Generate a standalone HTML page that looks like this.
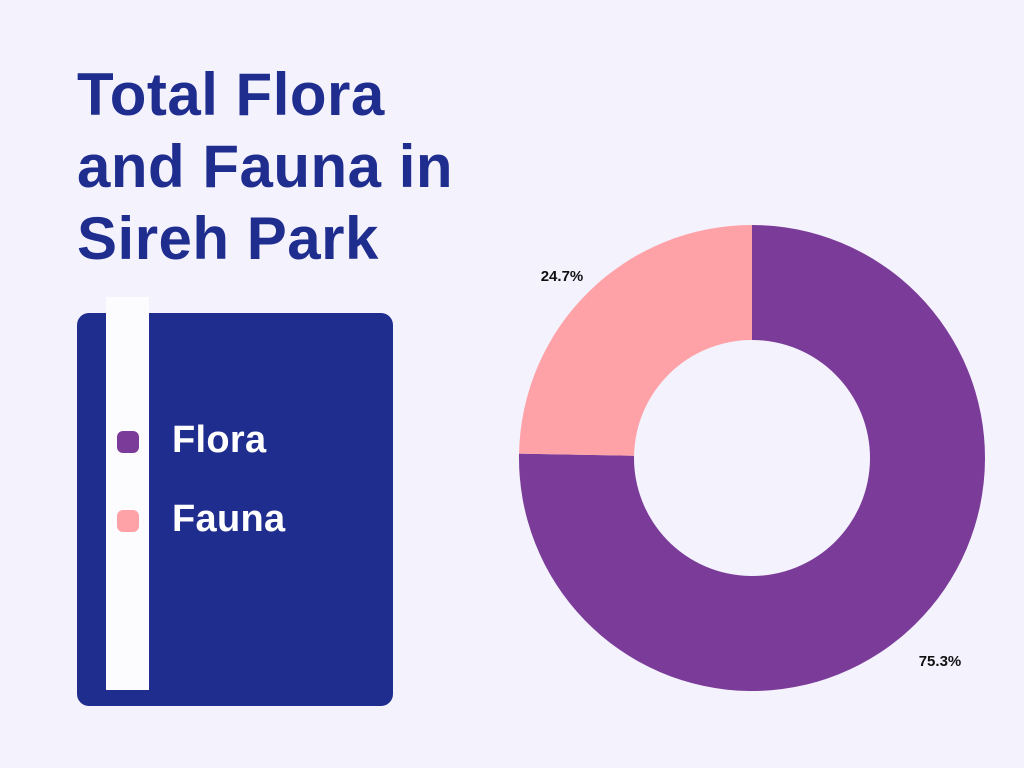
<!DOCTYPE html>
<html><head><meta charset="utf-8"><style>
html,body{margin:0;padding:0;background:#f3f2fd;}
body{width:1024px;height:768px;position:relative;overflow:hidden;font-family:"Liberation Sans",sans-serif;}
#title{position:absolute;left:77px;top:59px;margin:0;font-size:60px;line-height:72px;font-weight:bold;color:#1f2d8f;letter-spacing:0.5px;}
#legend-box{position:absolute;left:77px;top:313px;width:316px;height:393px;background:#1f2d8f;border-radius:12px;}
#stripe{position:absolute;left:106px;top:297px;width:43px;height:393px;background:#fcfcfe;}
.item{position:absolute;left:117px;height:22px;}
.sw{position:absolute;left:0;top:0;width:22px;height:22px;border-radius:6px;}
.lbl{position:absolute;left:55px;top:-12px;font-size:38px;font-weight:bold;color:#fff;white-space:nowrap;letter-spacing:0.3px;}
svg{position:absolute;left:0;top:0;}
</style></head><body>
<h1 id="title">Total Flora<br>and Fauna in<br>Sireh Park</h1>
<div id="legend-box"></div>
<div id="stripe"></div>
<div class="item" style="top:431px"><div class="sw" style="background:#7b3b99"></div><div class="lbl">Flora</div></div>
<div class="item" style="top:510px"><div class="sw" style="background:#ffa2a8"></div><div class="lbl">Fauna</div></div>
<svg id="chart" width="1024" height="768"></svg>
<script>
const categories=["Flora","Fauna"];
const values=[75.3,24.7];
const colors=["#7b3b99","#ffa2a8"];
const labelPos=[[940,661],[562,276]];
const svg=document.getElementById('chart');
const NS='http://www.w3.org/2000/svg';
const cx=752,cy=458,R=233,r=118;
const total=values.reduce((a,b)=>a+b,0);
function pt(a,rad){return [cx+rad*Math.sin(a),cy-rad*Math.cos(a)];}
let start=0;
values.forEach((v,i)=>{
  const end=start+v/total*2*Math.PI;
  const large=(end-start)>Math.PI?1:0;
  const [x1,y1]=pt(start,R),[x2,y2]=pt(end,R),[x3,y3]=pt(end,r),[x4,y4]=pt(start,r);
  const p=document.createElementNS(NS,'path');
  p.setAttribute('d',`M${x1},${y1}A${R},${R} 0 ${large} 1 ${x2},${y2}L${x3},${y3}A${r},${r} 0 ${large} 0 ${x4},${y4}Z`);
  p.setAttribute('fill',colors[i]);
  
  
  svg.appendChild(p);
  const t=document.createElementNS(NS,'text');
  t.setAttribute('x',labelPos[i][0]);t.setAttribute('y',labelPos[i][1]+5);
  t.setAttribute('text-anchor','middle');t.setAttribute('font-size','15');t.setAttribute('font-weight','bold');
  t.setAttribute('font-family','Liberation Sans, sans-serif');t.setAttribute('fill','#111');
  t.textContent=v.toFixed(1)+'%';
  
  
  svg.appendChild(t);
  start=end;
});
</script>
</body></html>
